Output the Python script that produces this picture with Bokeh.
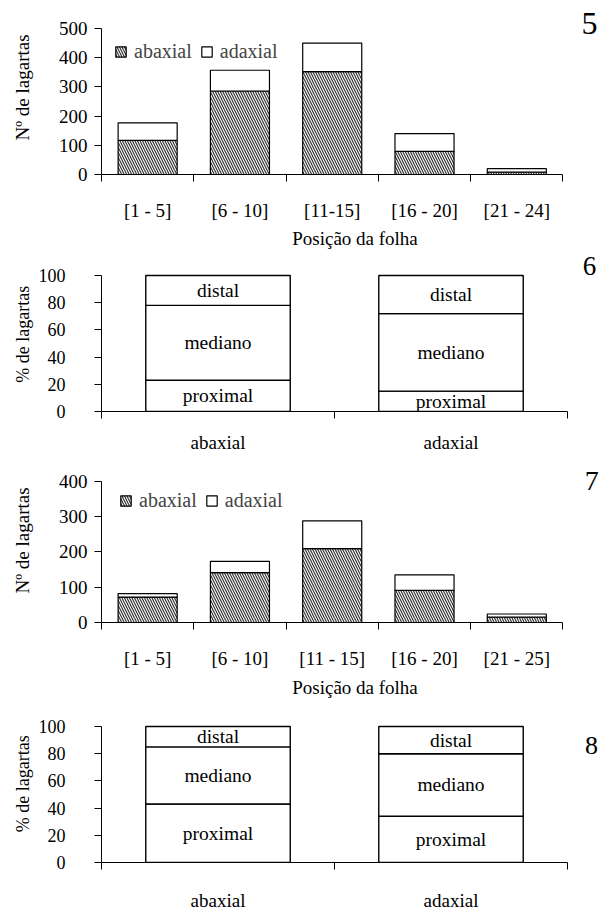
from bokeh.plotting import figure
from bokeh.layouts import column
from bokeh.models import Range1d, FixedTicker, Label, Legend, LegendItem
from bokeh.embed import file_html
from bokeh.resources import INLINE
from bokeh.core.properties import value
import numpy as np

FONT = "Liberation Serif"

# ---- Figure 5 : number of larvae per leaf position ----
p5_classes = ["[1 - 5]", "[6 - 10]", "[11-15]", "[16 - 20]", "[21 - 24]"]
p5_abaxial = [117, 286, 352, 79, 8]
p5_adaxial = [60, 71, 98, 61, 12]
p5_yticks = [0, 100, 200, 300, 400, 500]

# ---- Figure 6 : % of larvae per leaf region ----
p6_sides = ["abaxial", "adaxial"]
p6_proximal = [23, 15]
p6_mediano = [55, 57]
p6_distal = [22, 28]
p6_yticks = [0, 20, 40, 60, 80, 100]

# ---- Figure 7 ----
p7_classes = ["[1 - 5]", "[6 - 10]", "[11 - 15]", "[16 - 20]", "[21 - 25]"]
p7_abaxial = [72, 141, 209, 91, 15]
p7_adaxial = [10, 32, 79, 44, 9]
p7_yticks = [0, 100, 200, 300, 400]

# ---- Figure 8 ----
p8_sides = ["abaxial", "adaxial"]
p8_proximal = [43, 34]
p8_mediano = [42, 46]
p8_distal = [15, 20]
p8_yticks = [0, 20, 40, 60, 80, 100]

segment_names = ["proximal", "mediano", "distal"]

PAGE_W = 610


def base_fig(n, ymax, yticks, geom):
    # geom: fig_top, fig_h, y_zero, y_max, x_left, x_right  (page pixels)
    fig_top, fig_h, y_zero, y_max, x_left, x_right = geom
    left = x_left
    right = 2
    top = 0
    bottom = fig_top + fig_h - y_zero
    frame_w = PAGE_W - left - right
    frame_h = fig_h - top - bottom
    x_end = n * frame_w / (x_right - x_left)
    y_end = ymax * frame_h / (y_zero - y_max)
    p = figure(width=PAGE_W, height=fig_h,
               min_border_left=left, min_border_right=right,
               min_border_top=top, min_border_bottom=bottom,
               x_range=Range1d(0, x_end), y_range=Range1d(0, y_end),
               output_backend="svg", toolbar_location=None)
    p.outline_line_color = None
    p.xgrid.visible = False
    p.ygrid.visible = False
    p.background_fill_color = "white"
    p.border_fill_color = "white"
    centers = list(np.arange(n) + 0.5)
    xa = p.xaxis[0]
    xa.bounds = (0, n)
    xa.ticker = FixedTicker(ticks=centers, minor_ticks=list(range(n + 1)))
    xa.major_tick_out = 0
    xa.major_tick_in = 0
    xa.minor_tick_out = 7
    xa.minor_tick_in = 0
    xa.axis_line_color = "black"
    xa.minor_tick_line_color = "black"
    xa.major_label_text_font = FONT
    xa.major_label_text_color = "black"
    xa.axis_label_text_font = FONT
    xa.axis_label_text_font_style = "normal"
    xa.axis_label_text_color = "black"
    ya = p.yaxis[0]
    ya.bounds = (0, ymax)
    ya.ticker = FixedTicker(ticks=yticks, minor_ticks=[])
    ya.major_tick_out = 7
    ya.major_tick_in = 0
    ya.axis_line_color = "black"
    ya.major_tick_line_color = "black"
    ya.major_label_text_font = FONT
    ya.major_label_text_color = "black"
    ya.axis_label_text_font = FONT
    ya.axis_label_text_font_style = "normal"
    ya.axis_label_text_color = "black"
    return p, centers


def count_panel(classes, ab, ad, ymax, yticks, number, num_xy, num_size,
                legend_loc, geom, lab_standoff, title_standoff):
    n = len(classes)
    p, centers = base_fig(n, ymax, yticks, geom)
    ab = np.array(ab)
    tot = ab + np.array(ad)
    r1 = p.vbar(x=centers, bottom=0, top=ab, width=0.64, fill_color="white",
                hatch_pattern="\\", hatch_color="#333333", hatch_scale=5,
                hatch_weight=1.2, line_color="black", line_width=1.2)
    r2 = p.vbar(x=centers, bottom=ab, top=tot, width=0.64, fill_color="white",
                line_color="black", line_width=1.2)
    xa = p.xaxis[0]
    xa.major_label_overrides = {float(c): lab for c, lab in zip(centers, classes)}
    xa.major_label_text_font_size = "19px"
    xa.major_label_standoff = lab_standoff
    xa.axis_label = "Posição da folha"
    xa.axis_label_text_font_size = "19px"
    xa.axis_label_standoff = title_standoff
    ya = p.yaxis[0]
    ya.major_label_text_font_size = "19px"
    ya.major_label_standoff = 7
    ya.axis_label = "Nº de lagartas"
    ya.axis_label_text_font_size = "19px"
    ya.axis_label_standoff = 23
    leg = Legend(items=[LegendItem(label="abaxial", renderers=[r1]),
                        LegendItem(label="adaxial", renderers=[r2])],
                 orientation="horizontal", location=legend_loc,
                 border_line_color=None, background_fill_alpha=0,
                 padding=0, margin=0, spacing=8, label_standoff=7,
                 glyph_width=13, glyph_height=13,
                 label_text_font=FONT, label_text_font_size="20px")
    p.add_layout(leg)
    p.add_layout(Label(x=num_xy[0], y=num_xy[1], text=number, text_font=FONT,
                       text_font_size=num_size, text_align="center",
                       text_baseline="middle", text_color="black"))
    return p


def pct_panel(sides, prox, med, dist, yticks, number, num_xy, num_size, geom,
              lab_standoff):
    n = len(sides)
    p, centers = base_fig(n, 100, yticks, geom)
    prox = np.array(prox)
    med = np.array(med)
    dist = np.array(dist)
    b0 = np.zeros(n)
    b1 = prox
    b2 = prox + med
    b3 = prox + med + dist
    for lo, hi, name in zip([b0, b1, b2], [b1, b2, b3], segment_names):
        p.vbar(x=centers, bottom=lo, top=hi, width=0.62, fill_color="white",
               line_color="black", line_width=1.4)
        p.text(x=centers, y=(lo + hi) / 2, text=[name] * n, text_align="center",
               text_baseline="middle", text_font=value(FONT),
               text_font_size="19.5px", text_color="black")
    xa = p.xaxis[0]
    xa.major_label_overrides = {float(c): lab for c, lab in zip(centers, sides)}
    xa.major_label_text_font_size = "19px"
    xa.major_label_standoff = lab_standoff
    ya = p.yaxis[0]
    ya.major_label_text_font_size = "18px"
    ya.major_label_standoff = 29
    ya.axis_label = "%  de lagartas"
    ya.axis_label_text_font_size = "18px"
    ya.axis_label_standoff = 3
    p.add_layout(Label(x=num_xy[0], y=num_xy[1], text=number, text_font=FONT,
                       text_font_size=num_size, text_align="center",
                       text_baseline="middle", text_color="black"))
    return p


f5 = count_panel(p5_classes, p5_abaxial, p5_adaxial, 500, p5_yticks, "5",
                 (5.289, 516), "32px", (13, 111), (0, 252, 174, 28, 96, 562),
                 18, 4)
f6 = pct_panel(p6_sides, p6_proximal, p6_mediano, p6_distal, p6_yticks, "6",
               (2.094, 107), "27px", (252, 206, 411, 275, 101, 567), 13)
f7 = count_panel(p7_classes, p7_abaxial, p7_adaxial, 400, p7_yticks, "7",
                 (5.311, 400), "28px", (18, 110), (458, 242, 624, 481, 96, 562),
                 18, 5)
f8 = pct_panel(p8_sides, p8_proximal, p8_mediano, p8_distal, p8_yticks, "8",
               (2.103, 85.7), "26px", (700, 214, 862, 726, 101, 567), 20)

layout = column(f5, f6, f7, f8, spacing=0)
open("out.html", "w").write(file_html(layout, INLINE))
